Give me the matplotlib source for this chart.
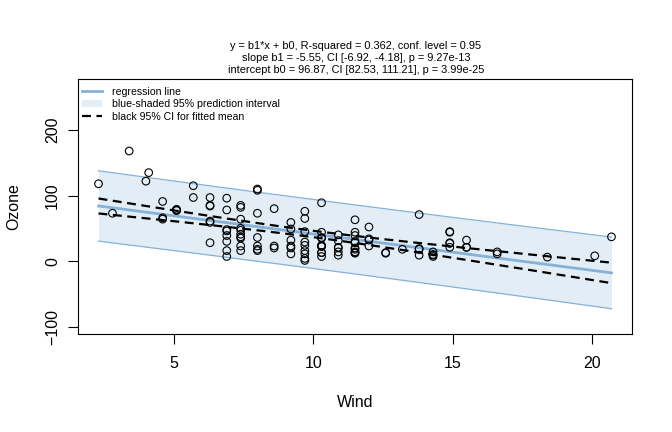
import numpy as np
import matplotlib.pyplot as plt
from matplotlib.lines import Line2D
from matplotlib.patches import Patch

plt.rcParams['font.family'] = ['Liberation Sans', 'DejaVu Sans']

# airquality: complete Ozone cases (Wind, Ozone)
wind = [7.4, 8.0, 12.6, 11.5, 14.9, 8.6, 13.8, 20.1, 6.9, 9.7, 9.2, 10.9, 13.2, 11.5,
        12.0, 18.4, 11.5, 9.7, 9.7, 16.6, 9.7, 12.0, 12.0, 14.9, 5.7, 7.4, 9.7, 13.8,
        11.5, 8.0, 14.9, 20.7, 9.2, 11.5, 10.3, 4.1, 9.2, 9.2, 4.6, 10.9, 5.1, 6.3,
        5.7, 7.4, 14.3, 14.9, 14.3, 6.9, 10.3, 6.3, 5.1, 11.5, 6.9, 8.6, 8.0, 8.6,
        12.0, 7.4, 7.4, 7.4, 9.2, 6.9, 13.8, 7.4, 6.9, 7.4, 4.6, 4.0, 10.3, 8.0,
        11.5, 11.5, 9.7, 10.3, 6.3, 7.4, 10.9, 10.3, 15.5, 14.3, 9.7, 3.4, 8.0, 9.7,
        2.3, 6.3, 6.3, 6.9, 5.1, 2.8, 4.6, 7.4, 15.5, 10.9, 10.3, 10.9, 9.7, 14.9,
        15.5, 6.3, 10.9, 11.5, 6.9, 13.8, 10.3, 10.3, 8.0, 12.6, 9.2, 10.3, 10.3,
        16.6, 6.9, 14.3, 8.0, 11.5]
ozone = [41, 36, 12, 18, 28, 23, 19, 8, 7, 16, 11, 14, 18, 14, 34, 6, 30, 11, 1, 11,
         4, 32, 23, 45, 115, 37, 29, 71, 39, 23, 21, 37, 20, 12, 13, 135, 49, 32, 64,
         40, 77, 97, 97, 85, 10, 27, 7, 48, 35, 61, 79, 63, 16, 80, 108, 20, 52, 82,
         50, 64, 59, 39, 9, 16, 78, 35, 66, 122, 89, 110, 44, 28, 65, 22, 59, 23, 31,
         44, 21, 9, 45, 168, 73, 76, 118, 84, 85, 96, 78, 73, 91, 47, 32, 20, 23, 21,
         24, 44, 21, 28, 9, 13, 46, 18, 13, 24, 16, 13, 23, 36, 7, 14, 30, 14, 18, 20]

title = ("y = b1*x + b0, R-squared = 0.362, conf. level = 0.95\n"
         "slope b1 = -5.55, CI [-6.92, -4.18], p = 9.27e-13\n"
         "intercept b0 = 96.87, CI [82.53, 111.21], p = 3.99e-25")

x = np.array(wind)
y = np.array(ozone)
n = len(x)
b1, b0 = np.polyfit(x, y, 1)
resid = y - (b0 + b1 * x)
s = np.sqrt(np.sum(resid ** 2) / (n - 2))
sxx = np.sum((x - x.mean()) ** 2)
tq = 1.980992  # t(0.975, df=114)

xs = np.linspace(x.min(), x.max(), 200)
fit = b0 + b1 * xs
se_mean = s * np.sqrt(1 / n + (xs - x.mean()) ** 2 / sxx)
se_pred = s * np.sqrt(1 + 1 / n + (xs - x.mean()) ** 2 / sxx)

blue = '#86B1D8'
shade = '#E2EDF5'

fig = plt.figure(figsize=(6.72, 4.32), dpi=100)
ax = fig.add_axes([78 / 672, 1 - 334 / 432, 554 / 672, 255 / 432])

ax.fill_between(xs, fit - tq * se_pred, fit + tq * se_pred, color=shade, lw=0)
ax.plot(xs, fit - tq * se_pred, color=blue, lw=0.9)
ax.plot(xs, fit + tq * se_pred, color=blue, lw=0.9)
ax.plot(xs, fit, color=blue, lw=2)
ax.plot(xs, fit - tq * se_mean, color='black', lw=1.6, ls=(0, (4, 2.5)))
ax.plot(xs, fit + tq * se_mean, color='black', lw=1.6, ls=(0, (4, 2.5)))
ax.scatter(x, y, s=30, facecolors='none', edgecolors='black', linewidths=0.8, zorder=5)

ax.set_xlim(1.564, 21.436)
ax.set_ylim(-111.3, 277.9)
ax.set_xticks([5, 10, 15, 20])
ax.set_yticks([-100, 0, 100, 200])
ax.tick_params(labelsize=11.5, length=7, width=0.8)
ax.tick_params(axis='x', pad=9)
ax.tick_params(axis='y', pad=6)
for lab in ax.get_yticklabels():
    lab.set_rotation(90)
    lab.set_va('center')
for sp in ax.spines.values():
    sp.set_linewidth(0.8)
ax.set_xlabel('Wind', fontsize=11.5, labelpad=17)
ax.set_ylabel('Ozone', fontsize=11.5, labelpad=17)

fig.text(356 / 672, 1 - 58 / 432, title, ha='center', va='center',
         fontsize=7.9, linespacing=1.3)

handles = [Line2D([], [], color=blue, lw=2),
           Patch(facecolor=shade, edgecolor='none'),
           Line2D([], [], color='black', lw=1.6, ls=(0, (4, 2.5)))]
labels = ['regression line', 'blue-shaded 95% prediction interval',
          'black 95% CI for fitted mean']
ax.legend(handles, labels, loc='upper left', bbox_to_anchor=(0.0, 0.985),
          frameon=False, fontsize=7.6, handlelength=1.9, borderaxespad=0.2,
          labelspacing=0.22, borderpad=0.2, handletextpad=0.9)

fig.savefig('out.png', dpi=100)
